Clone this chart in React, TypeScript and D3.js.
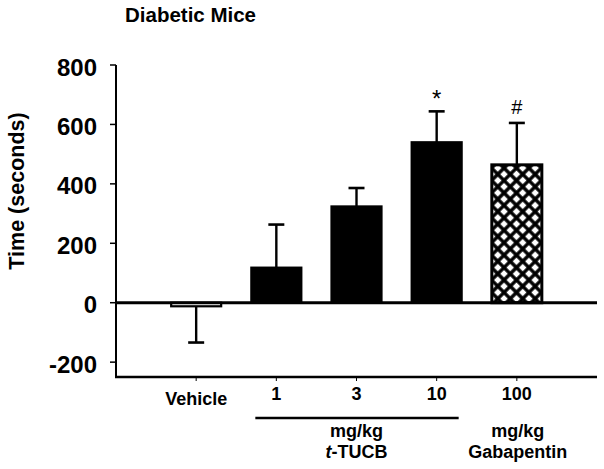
import React from "react";
import * as d3 from "d3";

const categories = ["Vehicle", "1", "3", "10", "100"];
const means = [-12, 118, 324, 540, 464];
const sems = [122, 145, 62, 104, 141];
const fills = ["white", "black", "black", "black", "hatch"];
const marks = ["", "", "", "*", "#"];
const yTicks = [-200, 0, 200, 400, 600, 800];

const W = 604;
const H = 469;
const FONT = "Arial, 'Liberation Sans', Helvetica, sans-serif";

export default function App() {
  const x = d3
    .scalePoint<string>()
    .domain(["__l", ...categories, "__r"])
    .range([116, 597]);
  const y = d3.scaleLinear().domain([-250, 800]).range([377, 65]);
  const barW = 50;
  const capW = 16;

  return (
    <svg
      width={W}
      height={H}
      style={{ position: "absolute", left: 0, top: 0, background: "white" }}
      fontFamily={FONT}
    >
      <defs>
        <pattern
          id="hatch"
          patternUnits="userSpaceOnUse"
          width={8.8}
          height={8.8}
          patternTransform="rotate(45)"
        >
          <rect width={8.8} height={8.8} fill="white" />
          <line x1={0} y1={-1} x2={0} y2={9.8} stroke="black" strokeWidth={3.4} />
          <line x1={8.8} y1={-1} x2={8.8} y2={9.8} stroke="black" strokeWidth={3.4} />
          <line x1={-1} y1={0} x2={9.8} y2={0} stroke="black" strokeWidth={3.4} />
          <line x1={-1} y1={8.8} x2={9.8} y2={8.8} stroke="black" strokeWidth={3.4} />
        </pattern>
      </defs>
      <rect width={W} height={H} fill="white" />

      {/* Title */}
      <text x={125} y={22} fontSize={20.5} fontWeight="bold" fill="black">
        Diabetic Mice
      </text>

      {/* Y axis title */}
      <text
        transform={`translate(24,191) rotate(-90)`}
        textAnchor="middle"
        fontSize={21.5}
        fontWeight="bold"
        fill="black"
      >
        Time (seconds)
      </text>

      {/* Y axis */}
      <line x1={116} x2={116} y1={y(800)} y2={377} stroke="black" strokeWidth={2} />
      {yTicks.map((t) => (
        <g key={t}>
          <line x1={110} x2={116} y1={y(t)} y2={y(t)} stroke="black" strokeWidth={1.5} />
          <text
            x={97}
            y={y(t) + 10.5}
            textAnchor="end"
            fontSize={24}
            fontWeight="bold"
            fill="black"
          >
            {t}
          </text>
        </g>
      ))}

      {/* Bars */}
      {categories.map((c, i) => {
        const cx = x(c)!;
        const v = means[i];
        const y0 = y(0);
        const yv = y(v);
        const top = Math.min(y0, yv);
        const h = Math.abs(yv - y0);
        const dir = v >= 0 ? 1 : -1;
        const yErr = y(v + dir * sems[i]);
        const isHatch = fills[i] === "hatch";
        const fill = isHatch ? "url(#hatch)" : fills[i];
        return (
          <g key={c}>
            <line x1={cx} x2={cx} y1={yv} y2={yErr} stroke="black" strokeWidth={2.4} />
            <line
              x1={cx - capW / 2}
              x2={cx + capW / 2}
              y1={yErr}
              y2={yErr}
              stroke="black"
              strokeWidth={2.6}
            />
            <rect
              x={cx - barW / 2}
              y={top}
              width={barW}
              height={h}
              fill={fill}
              stroke="black"
              strokeWidth={isHatch ? 3 : 2.2}
            />
            {marks[i] && (
              <text
                x={cx}
                y={marks[i] === "*" ? 107 : 114}
                textAnchor="middle"
                fontSize={marks[i] === "*" ? 24 : 20}
                fill="black"
              >
                {marks[i]}
              </text>
            )}
          </g>
        );
      })}

      {/* Zero line */}
      <line x1={116} x2={597} y1={y(0)} y2={y(0)} stroke="black" strokeWidth={3} />

      {/* Bottom axis */}
      <line x1={115} x2={597} y1={377} y2={377} stroke="black" strokeWidth={2.5} />
      {categories.map((c, i) => (
        <g key={c}>
          <line x1={x(c)!} x2={x(c)!} y1={377} y2={381} stroke="black" strokeWidth={1} />
          <text
            x={x(c)!}
            y={i === 0 ? 405 : 400}
            textAnchor="middle"
            fontSize={18}
            fontWeight="bold"
            fill="black"
          >
            {c}
          </text>
        </g>
      ))}

      {/* Group labels */}
      <line
        x1={x("1")! - 21}
        x2={x("10")! + 22}
        y1={418}
        y2={418}
        stroke="black"
        strokeWidth={2.5}
      />
      <text x={x("3")!} y={437} textAnchor="middle" fontSize={18} fontWeight="bold" fill="black">
        mg/kg
      </text>
      <text x={x("3")!} y={458} textAnchor="middle" fontSize={18} fontWeight="bold" fill="black">
        <tspan fontStyle="italic">t</tspan>-TUCB
      </text>
      <text x={x("100")! + 1} y={437} textAnchor="middle" fontSize={18} fontWeight="bold" fill="black">
        mg/kg
      </text>
      <text x={x("100")! + 1} y={458} textAnchor="middle" fontSize={18} fontWeight="bold" fill="black">
        Gabapentin
      </text>
    </svg>
  );
}
